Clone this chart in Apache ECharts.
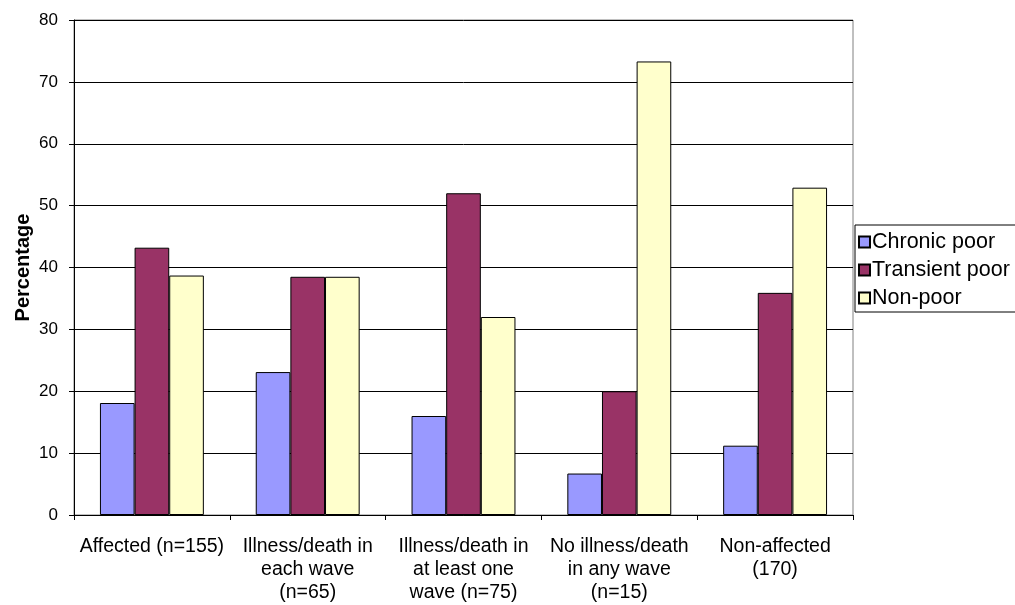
<!DOCTYPE html>
<html>
<head>
<meta charset="utf-8">
<title>Poverty status by illness/death experience</title>
<script src="https://cdn.jsdelivr.net/npm/echarts@6/dist/echarts.min.js"></script>
<style>
  html, body { margin: 0; padding: 0; background: #ffffff; }
  #chart { width: 1015px; height: 605px; }
</style>
</head>
<body>
<div id="chart"></div>
<script>
// Household groups shown along the x axis
const categories = [
  'Affected (n=155)',
  'Illness/death in\neach wave\n(n=65)',
  'Illness/death in\nat least one\nwave (n=75)',
  'No illness/death\nin any wave\n(n=15)',
  'Non-affected\n(170)'
];

// Share of households in each poverty class (%)
const chronicPoor   = [18.1, 23.1, 16.0, 6.7, 11.2];
const transientPoor = [43.2, 38.5, 52.0, 20.0, 35.9];
const nonPoor       = [38.7, 38.5, 32.0, 73.3, 52.9];

const seriesNames = ['Chronic poor', 'Transient poor', 'Non-poor'];
const seriesColors = ['#9999FF', '#993366', '#FFFFCC'];

const yTicks = { min: 0, max: 80, interval: 10 };

const FONT = 'Liberation Sans, Arial, sans-serif';

const chart = echarts.init(document.getElementById('chart'), null, { renderer: 'canvas' });

const seriesData = [chronicPoor, transientPoor, nonPoor];

chart.setOption({
  animation: false,
  backgroundColor: '#ffffff',
  textStyle: { fontFamily: FONT },
  grid: {
    left: 74, right: 162, top: 20, bottom: 90,
    outerBoundsMode: 'none',
    containLabel: false,
    show: true, borderColor: '#808080', borderWidth: 1, backgroundColor: 'transparent'
  },
  legend: {
    orient: 'vertical',
    left: 855, top: 225,
    padding: [5, 40, 2, 3],
    itemWidth: 11, itemHeight: 11, itemGap: 4,
    icon: 'rect',
    borderColor: '#000000', borderWidth: 1,
    textStyle: { fontFamily: FONT, fontSize: 21.5, color: '#000000', lineHeight: 22, padding: [2, 0, 0, -3] },
    data: seriesNames
  },
  xAxis: {
    type: 'category',
    data: categories,
    axisLine: { lineStyle: { color: '#000000', width: 1 } },
    axisTick: { show: true, length: 5, lineStyle: { color: '#000000' } },
    axisLabel: {
      interval: 0, margin: 20,
      fontFamily: FONT, fontSize: 19.5, lineHeight: 23, color: '#000000', align: 'center'
    },
    splitLine: { show: false }
  },
  yAxis: {
    type: 'value',
    min: yTicks.min, max: yTicks.max, interval: yTicks.interval,
    name: 'Percentage',
    nameLocation: 'middle',
    nameGap: 41,
    nameMoveOverlap: false,
    nameTextStyle: { fontFamily: FONT, fontSize: 20, fontWeight: 'bold', color: '#000000' },
    axisLine: { show: true, lineStyle: { color: '#000000', width: 1 } },
    axisTick: { show: true, length: 5, lineStyle: { color: '#000000' } },
    axisLabel: { margin: 16, fontFamily: FONT, fontSize: 17, color: '#000000' },
    splitLine: { show: true, lineStyle: { color: '#000000', width: 1 } }
  },
  series: seriesNames.map((name, i) => ({
    name: name,
    type: 'bar',
    data: seriesData[i],
    barGap: '0%',
    barCategoryGap: '33.3%',
    itemStyle: { color: seriesColors[i], borderColor: '#000000', borderWidth: 1 }
  }))
});
</script>
</body>
</html>
